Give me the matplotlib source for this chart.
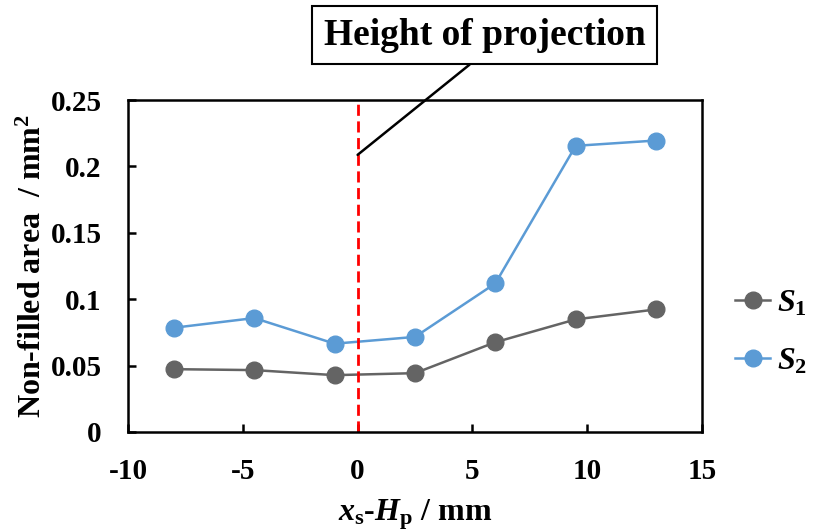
import numpy as np
import matplotlib.pyplot as plt
from matplotlib.ticker import FuncFormatter

plt.rcParams['font.family'] = 'Liberation Serif'
plt.rcParams['font.weight'] = 'bold'
plt.rcParams['axes.labelweight'] = 'bold'
plt.rcParams['axes.unicode_minus'] = False
plt.rcParams['mathtext.fontset'] = 'custom'
plt.rcParams['mathtext.rm'] = 'Liberation Serif:bold'
plt.rcParams['mathtext.it'] = 'Liberation Serif:bold:italic'
plt.rcParams['mathtext.bf'] = 'Liberation Serif:bold'

# data
x_pos = [-8, -4.5, -1, 2.5, 6, 9.5, 13]
s1 = [0.0473, 0.0466, 0.0428, 0.0443, 0.0676, 0.0848, 0.0923]
s2 = [0.0785, 0.0858, 0.0665, 0.0716, 0.1119, 0.2155, 0.2195]
x_ticks = [-10, -5, 0, 5, 10, 15]
y_ticks = [0, 0.05, 0.1, 0.15, 0.2, 0.25]

fig = plt.figure(figsize=(8.17, 5.32), dpi=100)
ax = fig.add_axes([0.1567, 0.188, 0.7025, 0.624])

ax.plot(x_pos, s1, color='#646464', lw=1.8, marker='o', ms=12, label=r'$S_{\mathrm{1}}$')
ax.plot(x_pos, s2, color='#5B9BD5', lw=1.8, marker='o', ms=12, label=r'$S_{\mathrm{2}}$')
ax.axvline(0, color='#FF0000', lw=2, ls=(0, (4, 2)))

ax.set_xlim(-10, 15)
ax.set_ylim(0, 0.25)
ax.set_xticks(x_ticks)
ax.set_yticks(y_ticks)
ax.yaxis.set_major_formatter(FuncFormatter(lambda v, p: '%g' % v))
ax.tick_params(direction='in', length=6, width=1.8, labelsize=21, pad=19)
for s in ax.spines.values():
    s.set_linewidth(1.8)

ax.set_xlabel(r'$x_{\mathrm{s}}$-$H_{\mathrm{p}}$ / mm', fontsize=23, labelpad=9)
ax.set_ylabel(r'Non-filled area  / mm$^{\mathrm{2}}$', fontsize=23, labelpad=2)

ax.annotate('Height of projection', xy=(0, 0.2087), xycoords='data',
            xytext=(0.593, 0.934), textcoords='figure fraction',
            ha='center', va='center', fontsize=27, fontweight='bold',
            bbox=dict(boxstyle='square,pad=0.3', fc='white', ec='black', lw=1.5),
            arrowprops=dict(arrowstyle='-', color='black', lw=1.8, relpos=(0.5, 0),
                            shrinkA=0, shrinkB=0),
            annotation_clip=False)

ax.legend(loc='center left', bbox_to_anchor=(0.9, 0.375), bbox_transform=fig.transFigure,
          frameon=False, fontsize=23, handlelength=1.1, labelspacing=0.9,
          handletextpad=0.2, borderpad=0, borderaxespad=0)

fig.savefig('out.png', dpi=100)
